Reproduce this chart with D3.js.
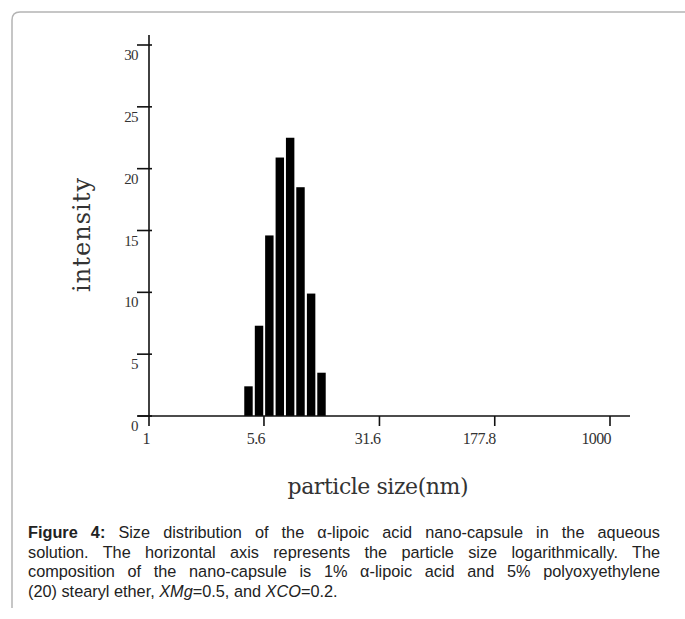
<!DOCTYPE html>
<html>
<head>
<meta charset="utf-8">
<script src="https://cdn.jsdelivr.net/npm/d3@7"></script>
<style>
    body { margin: 0; background: #fff; }
    svg { display: block; }
</style>
</head>
<body>
<svg id="figure" width="685" height="619"></svg>
<script>
/*
 * Data Variables
 */
var BIN_SIZE_NM = [4.44, 5.20, 6.07, 7.10, 8.29, 9.68, 11.35, 13.26],
    INTENSITY   = [2.4, 7.3, 14.6, 20.9, 22.5, 18.5, 9.9, 3.5],
    X_TICKS     = [1, 5.6, 31.6, 177.8, 1000],
    Y_TICKS     = [0, 5, 10, 15, 20, 25, 30];

var X_TITLE = 'particle size(nm)',
    Y_TITLE = 'intensity';

var CAPTION_LINES = [
    [{t: 'Figure 4:', w: 'bold'}, {t: ' Size distribution of the \u03b1-lipoic acid nano-capsule in the aqueous'}],
    [{t: 'solution. The horizontal axis represents the particle size logarithmically. The'}],
    [{t: 'composition of the nano-capsule is 1% \u03b1-lipoic acid and 5% polyoxyethylene'}],
    [{t: '(20) stearyl ether, '}, {t: 'XMg', s: 'italic'}, {t: '=0.5, and '}, {t: 'XCO', s: 'italic'}, {t: '=0.2.'}]
];

/*
 * Style Variables
 */
var AXIS_X = 149,
    AXIS_Y = 416,
    SERIF  = '"Liberation Serif", "Times New Roman", serif',
    TITLE_FONT = '"DejaVu Serif", serif',
    SANS   = '"Liberation Sans", Arial, sans-serif',
    CAPTION_LEFT = 28,
    CAPTION_WIDTH = 632,
    BAR_FILL = 0.8;

function drawFrame(svg) {
    svg.append('path')
        .attr('d', 'M12,608 V20 Q12,12 20,12 H685')
        .attr('fill', 'none')
        .attr('stroke', '#b4b4b4')
        .attr('stroke-width', 1.5);
}

function initChart(svg) {
    var x = d3.scaleLog().domain([1, 1000]).range([AXIS_X, 610]),
        y = d3.scaleLinear().domain([0, 30]).range([AXIS_Y, 45]);

    /**
     * Bars, width taken from the log step between bins
     */
    var step = Math.log10(BIN_SIZE_NM[1] / BIN_SIZE_NM[0]),
        half = step * BAR_FILL / 2;

    svg.append('g').selectAll('rect')
        .data(BIN_SIZE_NM)
        .enter()
        .append('rect')
        .attr('x', function (d) { return x(d / Math.pow(10, half)); })
        .attr('width', function (d) { return x(d * Math.pow(10, half)) - x(d / Math.pow(10, half)); })
        .attr('y', function (d, i) { return y(INTENSITY[i]); })
        .attr('height', function (d, i) { return y(0) - y(INTENSITY[i]); })
        .attr('fill', '#000');

    /**
     * Axes lines
     */
    var axes = svg.append('g')
        .attr('stroke', '#111')
        .attr('stroke-width', 1.6);

    axes.append('line')
        .attr('x1', AXIS_X).attr('x2', AXIS_X)
        .attr('y1', 35).attr('y2', AXIS_Y);
    axes.append('line')
        .attr('x1', 138).attr('x2', 630)
        .attr('y1', AXIS_Y).attr('y2', AXIS_Y);

    axes.selectAll('.ytick')
        .data(Y_TICKS)
        .enter()
        .append('line')
        .attr('x1', 137).attr('x2', 152)
        .attr('y1', function (d) { return y(d); })
        .attr('y2', function (d) { return y(d); });

    axes.selectAll('.xtick')
        .data(X_TICKS)
        .enter()
        .append('line')
        .attr('x1', function (d) { return x(d); })
        .attr('x2', function (d) { return x(d); })
        .attr('y1', AXIS_Y).attr('y2', AXIS_Y + 10);

    /**
     * Tick labels
     */
    svg.append('g').selectAll('text')
        .data(Y_TICKS)
        .enter()
        .append('text')
        .attr('x', 138)
        .attr('y', function (d) { return y(d) + 15; })
        .attr('text-anchor', 'end')
        .attr('font-family', SERIF)
        .attr('font-size', 15)
        .attr('letter-spacing', -0.6)
        .attr('fill', '#333')
        .text(function (d) { return d; });

    svg.append('g').selectAll('text')
        .data(X_TICKS)
        .enter()
        .append('text')
        .attr('x', function (d) { return x(d) + 1; })
        .attr('y', AXIS_Y + 28)
        .attr('text-anchor', 'end')
        .attr('font-family', SERIF)
        .attr('font-size', 16)
        .attr('letter-spacing', -0.6)
        .attr('fill', '#333')
        .text(function (d) { return d; });

    /**
     * Axis titles
     */
    svg.append('text')
        .attr('x', 378)
        .attr('y', 494)
        .attr('text-anchor', 'middle')
        .attr('font-family', TITLE_FONT)
        .attr('font-size', 22)
        .attr('textLength', 181)
        .attr('fill', '#333')
        .text(X_TITLE);

    svg.append('text')
        .attr('transform', 'translate(90,235) rotate(-90)')
        .attr('text-anchor', 'middle')
        .attr('font-family', TITLE_FONT)
        .attr('font-size', 24)
        .attr('textLength', 114)
        .attr('fill', '#333')
        .text(Y_TITLE);
}

/**
 * Caption, justified by widening the word gaps
 */
function drawCaption(svg) {
    var cap = svg.append('g')
        .attr('font-family', SANS)
        .attr('font-size', 16.3)
        .attr('fill', '#222');

    CAPTION_LINES.forEach(function (parts, i) {
        var line = cap.append('text')
            .attr('x', CAPTION_LEFT)
            .attr('y', 538 + i * 19.6);
        parts.forEach(function (p) {
            line.append('tspan')
                .attr('font-weight', p.w || null)
                .attr('font-style', p.s || null)
                .text(p.t);
        });
        if (i < CAPTION_LINES.length - 1) {
            var text = parts.map(function (p) { return p.t; }).join(''),
                gaps = text.split(' ').length - 1,
                len = line.node().getComputedTextLength();
            line.attr('word-spacing', (CAPTION_WIDTH - len) / gaps);
        }
    });
}

(function(){
    var svg = d3.select('#figure');
    drawFrame(svg);
    initChart(svg);
    drawCaption(svg);
})();
</script>
</body>
</html>
